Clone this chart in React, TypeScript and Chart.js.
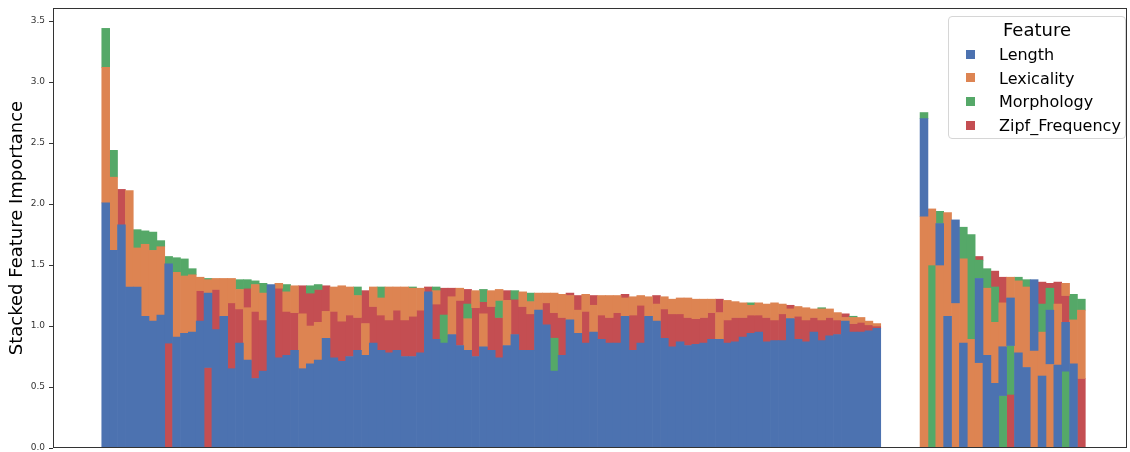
import React, { useEffect, useRef } from "react";
import { Chart, registerables } from "chart.js";

Chart.register(...registerables);

// ---- Data ----
const FEATURES = ["Length", "Lexicality", "Morphology", "Zipf_Frequency"];
const FEATURE_KEYS = ["L", "X", "M", "Z"];
const COLORS = ["#4C72B0", "#DD8452", "#55A868", "#C44E52"];

// Left group (sorted by total importance)
const leftLength = [2.01, 1.62, 1.83, 1.32, 1.32, 1.08, 1.04, 1.09, 0.65, 0.91, 0.94, 0.95, 1.04, 0.61, 0.97, 1.08, 0.65, 0.86, 0.72, 0.57, 0.63, 1.34, 0.74, 0.76, 0.80, 0.65, 0.69, 0.72, 0.90, 0.74, 0.71, 0.75, 0.80, 0.76, 0.86, 0.80, 0.78, 0.80, 0.75, 0.75, 0.78, 1.28, 0.89, 0.86, 0.93, 0.84, 0.80, 0.75, 0.83, 0.80, 0.74, 0.84, 0.93, 0.80, 0.80, 1.13, 1.01, 0.63, 0.76, 1.05, 0.94, 0.86, 0.95, 0.89, 0.86, 0.86, 1.08, 0.80, 0.86, 1.08, 1.04, 0.90, 0.83, 0.87, 0.84, 0.85, 0.86, 0.89, 0.89, 0.86, 0.87, 0.91, 0.94, 0.95, 0.87, 0.88, 0.88, 1.06, 0.89, 0.87, 0.95, 0.88, 0.92, 0.93, 1.04, 0.95, 0.95, 0.96, 0.98];
const leftLexicality = [1.11, 0.60, 0, 0.79, 0.32, 0.59, 0.58, 0.56, 0, 0.53, 0.47, 0.47, 0.11, 0.11, 0.09, 0.31, 0.20, 0.16, 0.43, 0.22, 0.22, 0, 0.04, 0.16, 0.22, 0.45, 0.31, 0.31, 0.22, 0.20, 0.29, 0.23, 0.18, 0.26, 0.16, 0.14, 0.27, 0.19, 0.27, 0.23, 0.18, 0, 0.11, 0, 0.31, 0.10, 0.26, 0.14, 0.27, 0.13, 0.09, 0.37, 0, 0.12, 0.10, 0.14, 0.08, 0.16, 0.19, 0.20, 0.19, 0.14, 0.22, 0.16, 0.18, 0.14, 0.15, 0.15, 0.08, 0.16, 0.14, 0.10, 0.12, 0.13, 0.16, 0.16, 0.15, 0.11, 0.22, 0.16, 0.13, 0.12, 0.08, 0.10, 0.11, 0.14, 0.08, 0.08, 0.08, 0.10, 0.07, 0.09, 0.07, 0.06, 0.03, 0.05, 0.04, 0.03, 0.02];
const leftMorphology = [0.32, 0.22, 0, 0, 0.15, 0.11, 0.15, 0.05, 0.06, 0.12, 0.14, 0.05, 0, 0.01, 0, 0, 0, 0.08, 0.07, 0.03, 0.08, 0, 0, 0.06, 0, 0, 0.06, 0.04, 0, 0, 0, 0, 0.07, 0, 0, 0.09, 0, 0, 0, 0.01, 0, 0, 0.03, 0.23, 0, 0, 0.12, 0, 0.10, 0, 0.14, 0, 0.07, 0, 0.07, 0, 0, 0.27, 0, 0, 0, 0, 0, 0, 0, 0, 0, 0, 0, 0, 0, 0, 0, 0, 0, 0, 0, 0, 0, 0, 0, 0, 0.02, 0, 0, 0, 0, 0, 0, 0, 0, 0.01, 0, 0, 0, 0.01, 0, 0, 0];
const leftZipf = [0, 0, 0.29, 0, 0, 0, 0, 0, 0.86, 0, 0, 0, 0.25, 0.66, 0.33, 0, 0.54, 0.28, 0.16, 0.55, 0.42, 0, 0.57, 0.36, 0.31, 0.23, 0.27, 0.27, 0.21, 0.38, 0.33, 0.34, 0.27, 0.27, 0.30, 0.29, 0.27, 0.33, 0.30, 0.33, 0.35, 0.04, 0.29, 0.22, 0.07, 0.37, 0.12, 0.40, 0.10, 0.36, 0.33, 0.08, 0.29, 0.36, 0.30, 0, 0.18, 0.21, 0.31, 0.02, 0.12, 0.26, 0.08, 0.20, 0.21, 0.25, 0.03, 0.29, 0.31, 0, 0.07, 0.24, 0.27, 0.23, 0.23, 0.21, 0.21, 0.22, 0.11, 0.19, 0.20, 0.16, 0.15, 0.14, 0.20, 0.17, 0.22, 0.03, 0.19, 0.18, 0.12, 0.17, 0.15, 0.12, 0.03, 0.07, 0.08, 0.05, 0.02];
// stacking order of each bar, bottom to top
const leftOrder = ["LXM", "LXM", "LZ", "LX", "LXM", "LXM", "LXM", "LXM", "ZLM", "LXM", "LXM", "LXM", "LZX", "ZLXM", "LZX", "LX", "LZX", "LZXM", "LXZM", "LZXM", "LZXM", "L", "LZX", "LZXM", "LZX", "LXZ", "LXZM", "LXZM", "LXZ", "LZX", "LZX", "LZX", "LZXM", "LXZ", "LZX", "LZXM", "LZX", "LZX", "LZX", "LZXM", "LZX", "LZ", "LZXM", "LMZ", "LXZ", "LZX", "LXMZ", "LZX", "LXZM", "LZX", "LZMX", "LXZ", "LZM", "LZX", "LZXM", "LX", "LZX", "LMZX", "LZX", "LXZ", "LXZ", "LZX", "LXZ", "LZX", "LZX", "LZX", "LXZ", "LZX", "LZX", "LX", "LXZ", "LZX", "LZX", "LZX", "LZX", "LZX", "LZX", "LZX", "LXZ", "LZX", "LZX", "LZX", "LZXM", "LZX", "LZX", "LZX", "LZX", "LXZ", "LZX", "LZX", "LZX", "LZXM", "LZX", "LZX", "LXZ", "LZXM", "LZX", "LZX", "LZX"];

// Right group
const rightLength = [0.80, 0, 0.34, 1.08, 0.68, 0.86, 0, 0.69, 0.76, 0.53, 0.40, 0.39, 0.78, 0.66, 0.58, 0.59, 0.44, 0.68, 0.40, 0.69, 0];
const rightLexicality = [1.90, 0.46, 1.50, 0.85, 1.19, 0.69, 0.89, 0.70, 0.55, 0.50, 0.36, 0.17, 0.59, 0.66, 0.80, 0.36, 0.69, 0.50, 0.10, 0.36, 0.56];
const rightMorphology = [0.05, 1.50, 0.10, 0, 0, 0.26, 0.86, 0.15, 0.16, 0.29, 0.43, 0.40, 0.03, 0.06, 0, 0.23, 0.18, 0, 0.63, 0.21, 0.09];
const rightZipf = [0, 0, 0, 0, 0, 0, 0, 0.03, 0, 0.13, 0.21, 0.44, 0, 0, 0, 0.18, 0.04, 0.18, 0.22, 0, 0.57];
const rightOrder = ["XLM", "MX", "XLM", "LX", "XL", "LXM", "XM", "XLMZ", "LXM", "LXMZ", "MLXZ", "ZMLX", "LXM", "LXM", "XL", "LXMZ", "XLMZ", "LXZ", "MLZX", "LXM", "ZXM"];

const GAP_SLOTS = 5;
const yTickValues = [0, 0.5, 1.0, 1.5, 2.0, 2.5, 3.0, 3.5];
const Y_MAX = 3.607;
const X_MIN = -6.7;
const X_MAX = 129.8;

function buildDatasets() {
  const groups = [
    { start: 0, order: leftOrder, vals: { L: leftLength, X: leftLexicality, M: leftMorphology, Z: leftZipf } },
    { start: leftOrder.length + GAP_SLOTS, order: rightOrder, vals: { L: rightLength, X: rightLexicality, M: rightMorphology, Z: rightZipf } },
  ];
  const pts: Record<string, { x: number; y: [number, number] }[]> = { L: [], X: [], M: [], Z: [] };
  for (const g of groups) {
    g.order.forEach((ord, i) => {
      let cum = 0;
      for (const k of ord.split("")) {
        const v = (g.vals as any)[k][i] as number;
        if (v > 0) {
          pts[k].push({ x: g.start + i, y: [cum, cum + v] });
          cum += v;
        }
      }
    });
  }
  return FEATURE_KEYS.map((k, idx) => ({
    label: FEATURES[idx],
    data: pts[k],
    backgroundColor: COLORS[idx],
    borderWidth: 0,
    grouped: false,
    barPercentage: 1.0,
    categoryPercentage: 1.0,
  }));
}

const framePlugin = {
  id: "frame",
  afterDatasetsDraw(chart: any) {
    const { ctx, chartArea } = chart;
    ctx.save();
    ctx.strokeStyle = "#333333";
    ctx.lineWidth = 1;
    ctx.strokeRect(chartArea.left + 0.5, chartArea.top + 0.5, chartArea.right - chartArea.left - 1, chartArea.bottom - chartArea.top - 1);
    ctx.restore();
  },
};

export default function App() {
  const ref = useRef<HTMLCanvasElement | null>(null);

  useEffect(() => {
    if (!ref.current) return;
    const chart = new Chart(ref.current, {
      type: "bar",
      data: { datasets: buildDatasets() as any },
      options: {
        animation: false,
        responsive: false,
        devicePixelRatio: 1,
        layout: { padding: { left: 0, top: 8, right: 3, bottom: 4 } },
        plugins: { legend: { display: false }, tooltip: { enabled: false } },
        scales: {
          x: {
            type: "linear",
            min: X_MIN,
            max: X_MAX,
            display: false,
            offset: false,
          },
          y: {
            type: "linear",
            min: 0,
            max: Y_MAX,
            afterBuildTicks: (s: any) => {
              s.ticks = yTickValues.map((v) => ({ value: v }));
            },
            afterFit: (s: any) => {
              s.width = 53;
              s.paddingTop = 0;
              s.paddingBottom = 0;
            },
            ticks: {
              callback: (v: any) => Number(v).toFixed(1),
              font: { family: "DejaVu Sans", size: 9 },
              color: "#333333",
              padding: 4,
            },
            grid: { drawOnChartArea: false, drawTicks: true, tickLength: 4, color: "#333333" },
            border: { display: false },
            title: {
              display: true,
              text: "Stacked Feature Importance",
              font: { family: "DejaVu Sans", size: 18 },
              color: "#000000",
              padding: { top: 7, bottom: 0 },
            },
          },
        },
      },
      plugins: [framePlugin],
    });
    return () => chart.destroy();
  }, []);

  const rowTop = (i: number) => 49.8 + 23.6 * i;

  return (
    <div style={{ position: "fixed", left: 0, top: 0, width: 1130, height: 452, background: "#fff", fontFamily: "DejaVu Sans" }}>
      <canvas ref={ref} width={1130} height={452} style={{ display: "block", width: 1130, height: 452 }} />
      <div
        style={{
          position: "absolute",
          left: 948,
          top: 16,
          width: 178,
          height: 123,
          boxSizing: "border-box",
          border: "1px solid #d6d6d6",
          borderRadius: 4,
          background: "rgba(255,255,255,0.85)",
        }}
      />
      <div style={{ position: "absolute", left: 948, width: 178, top: 18.8, height: 22, lineHeight: "22px", fontSize: 18, textAlign: "center", color: "#000" }}>
        Feature
      </div>
      {FEATURES.map((f, i) => (
        <React.Fragment key={f}>
          <div style={{ position: "absolute", left: 966, top: rowTop(i), width: 9, height: 9, background: COLORS[i] }} />
          <div style={{ position: "absolute", left: 999, top: rowTop(i) - 4.6, height: 20, lineHeight: "20px", fontSize: 16, color: "#000", whiteSpace: "nowrap" }}>
            {f}
          </div>
        </React.Fragment>
      ))}
    </div>
  );
}
